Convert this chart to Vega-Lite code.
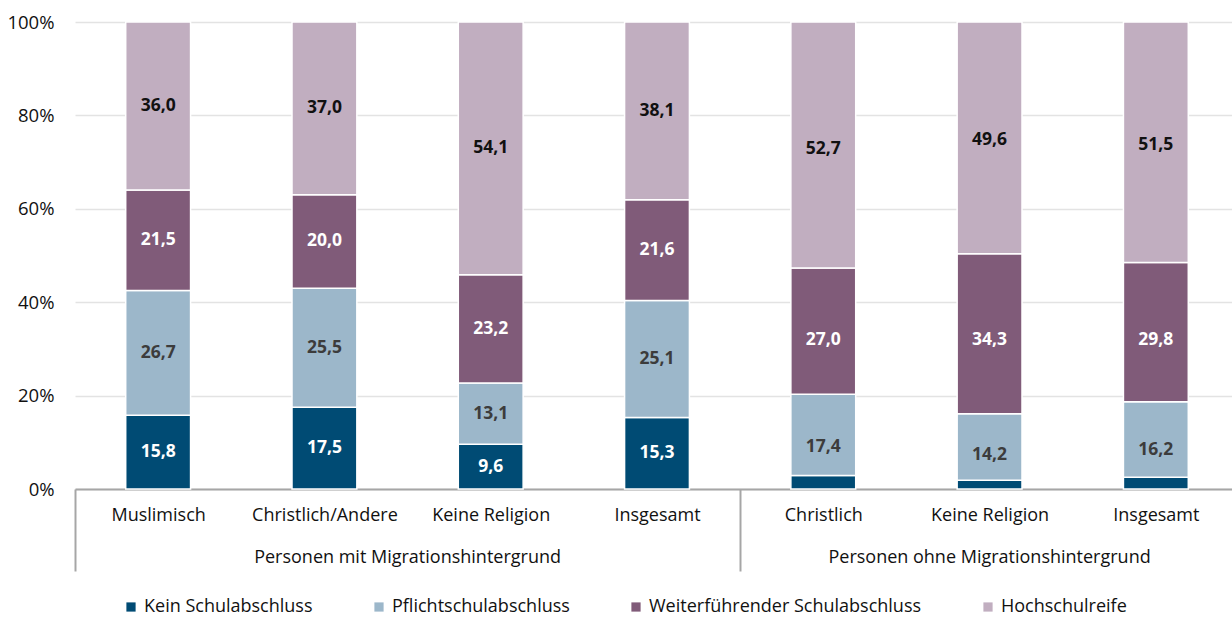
{
  "$schema": "https://vega.github.io/schema/vega-lite/v6.json",
  "width": 1157,
  "height": 467,
  "autosize": {"type": "none"},
  "padding": {"left": 75, "top": 22, "right": 0, "bottom": 130},
  "background": "white",
  "config": {
    "font": "Open Sans",
    "view": {"stroke": null},
    "locale": {"number": {"decimal": ",", "thousands": ".", "grouping": [3], "currency": ["", " €"]}}
  },
  "datasets": {
    "werte": [
      {"kat": "mit|Muslimisch", "stufe": "Kein Schulabschluss", "nr": 1, "wert": 15.8},
      {"kat": "mit|Muslimisch", "stufe": "Pflichtschulabschluss", "nr": 2, "wert": 26.7},
      {"kat": "mit|Muslimisch", "stufe": "Weiterführender Schulabschluss", "nr": 3, "wert": 21.5},
      {"kat": "mit|Muslimisch", "stufe": "Hochschulreife", "nr": 4, "wert": 36.0},
      {"kat": "mit|Christlich/Andere", "stufe": "Kein Schulabschluss", "nr": 1, "wert": 17.5},
      {"kat": "mit|Christlich/Andere", "stufe": "Pflichtschulabschluss", "nr": 2, "wert": 25.5},
      {"kat": "mit|Christlich/Andere", "stufe": "Weiterführender Schulabschluss", "nr": 3, "wert": 20.0},
      {"kat": "mit|Christlich/Andere", "stufe": "Hochschulreife", "nr": 4, "wert": 37.0},
      {"kat": "mit|Keine Religion", "stufe": "Kein Schulabschluss", "nr": 1, "wert": 9.6},
      {"kat": "mit|Keine Religion", "stufe": "Pflichtschulabschluss", "nr": 2, "wert": 13.1},
      {"kat": "mit|Keine Religion", "stufe": "Weiterführender Schulabschluss", "nr": 3, "wert": 23.2},
      {"kat": "mit|Keine Religion", "stufe": "Hochschulreife", "nr": 4, "wert": 54.1},
      {"kat": "mit|Insgesamt", "stufe": "Kein Schulabschluss", "nr": 1, "wert": 15.3},
      {"kat": "mit|Insgesamt", "stufe": "Pflichtschulabschluss", "nr": 2, "wert": 25.1},
      {"kat": "mit|Insgesamt", "stufe": "Weiterführender Schulabschluss", "nr": 3, "wert": 21.6},
      {"kat": "mit|Insgesamt", "stufe": "Hochschulreife", "nr": 4, "wert": 38.1},
      {"kat": "ohne|Christlich", "stufe": "Kein Schulabschluss", "nr": 1, "wert": 2.9},
      {"kat": "ohne|Christlich", "stufe": "Pflichtschulabschluss", "nr": 2, "wert": 17.4},
      {"kat": "ohne|Christlich", "stufe": "Weiterführender Schulabschluss", "nr": 3, "wert": 27.0},
      {"kat": "ohne|Christlich", "stufe": "Hochschulreife", "nr": 4, "wert": 52.7},
      {"kat": "ohne|Keine Religion", "stufe": "Kein Schulabschluss", "nr": 1, "wert": 1.9},
      {"kat": "ohne|Keine Religion", "stufe": "Pflichtschulabschluss", "nr": 2, "wert": 14.2},
      {"kat": "ohne|Keine Religion", "stufe": "Weiterführender Schulabschluss", "nr": 3, "wert": 34.3},
      {"kat": "ohne|Keine Religion", "stufe": "Hochschulreife", "nr": 4, "wert": 49.6},
      {"kat": "ohne|Insgesamt", "stufe": "Kein Schulabschluss", "nr": 1, "wert": 2.5},
      {"kat": "ohne|Insgesamt", "stufe": "Pflichtschulabschluss", "nr": 2, "wert": 16.2},
      {"kat": "ohne|Insgesamt", "stufe": "Weiterführender Schulabschluss", "nr": 3, "wert": 29.8},
      {"kat": "ohne|Insgesamt", "stufe": "Hochschulreife", "nr": 4, "wert": 51.5}
    ],
    "gruppen": [
      {"kat": "mit|Keine Religion", "gruppe": "Personen mit Migrationshintergrund"},
      {"kat": "ohne|Keine Religion", "gruppe": "Personen ohne Migrationshintergrund"}
    ]
  },
  "encoding": {
    "x": {
      "field": "kat",
      "type": "nominal",
      "sort": null,
      "scale": {
        "type": "band",
        "domain": ["mit|Muslimisch", "mit|Christlich/Andere", "mit|Keine Religion", "mit|Insgesamt", "ohne|Christlich", "ohne|Keine Religion", "ohne|Insgesamt"],
        "range": [0, 1164],
        "paddingInner": 0,
        "paddingOuter": 0
      },
      "axis": {
        "title": null,
        "labelAngle": 0,
        "labelExpr": "split(datum.value, '|')[1]",
        "labelFontSize": 18,
        "labelColor": "#111111",
        "labelPadding": -65,
        "tickBand": "extent",
        "tickSize": 82,
        "tickWidth": 2,
        "tickColor": "#a6a6a6",
        "tickOpacity": {"condition": {"test": "datum.extra || datum.value == 'mit|Insgesamt' || datum.value == 'ohne|Insgesamt'", "value": 1}, "value": 0},
        "domainColor": "#a6a6a6",
        "domainWidth": 2,
        "grid": false
      }
    }
  },
  "layer": [
    {
      "data": {"name": "werte"},
      "mark": {"type": "bar", "width": {"band": 0.39}, "stroke": "white", "strokeWidth": 1.5},
      "encoding": {
        "y": {
          "field": "wert",
          "type": "quantitative",
          "stack": "normalize",
          "scale": {"domain": [0, 1], "nice": false},
          "axis": {
            "title": null,
            "format": ".0%",
            "values": [0, 0.2, 0.4, 0.6, 0.8, 1],
            "domain": false,
            "ticks": false,
            "labelPadding": 21,
            "labelFontSize": 18.5,
            "labelColor": "#111111",
            "gridColor": "#e3e3e3",
            "gridWidth": 1.5
          }
        },
        "color": {
          "field": "stufe",
          "type": "nominal",
          "scale": {
            "domain": ["Kein Schulabschluss", "Pflichtschulabschluss", "Weiterführender Schulabschluss", "Hochschulreife"],
            "range": ["#004b74", "#9cb7ca", "#805b79", "#c1aec0"]
          },
          "legend": {
            "title": null,
            "orient": "none",
            "legendX": 47,
            "legendY": 576,
            "direction": "horizontal",
            "columns": 4,
            "symbolType": "square",
            "symbolSize": 85,
            "symbolStrokeWidth": 0,
            "labelFontSize": 18,
            "labelColor": "#111111",
            "labelOffset": 4,
            "labelLimit": 400,
            "columnPadding": 57
          }
        },
        "order": {"field": "nr", "type": "quantitative", "sort": "ascending"}
      }
    },
    {
      "data": {"name": "werte"},
      "transform": [{"filter": "datum.wert >= 5"}],
      "mark": {"type": "text", "fontSize": 17.5, "fontWeight": "bold", "baseline": "middle", "align": "center"},
      "encoding": {
        "y": {"field": "wert", "type": "quantitative", "stack": "normalize", "bandPosition": 0.5},
        "order": {"field": "nr", "type": "quantitative", "sort": "ascending"},
        "detail": {"field": "stufe"},
        "text": {"field": "wert", "type": "quantitative", "format": ".1f"},
        "color": {
          "condition": [
            {"test": "datum.nr == 1 || datum.nr == 3", "value": "#ffffff"},
            {"test": "datum.nr == 2", "value": "#3c3c3c"}
          ],
          "value": "#111111"
        }
      }
    },
    {
      "data": {"name": "gruppen"},
      "transform": [{"filter": "datum.kat == 'mit|Keine Religion'"}],
      "mark": {"type": "text", "fontSize": 18, "baseline": "middle", "align": "center", "dy": 69, "color": "#111111"},
      "encoding": {
        "x": {"field": "kat", "type": "nominal", "bandPosition": 0},
        "y": {"datum": 0, "type": "quantitative"},
        "text": {"field": "gruppe"}
      }
    },
    {
      "data": {"name": "gruppen"},
      "transform": [{"filter": "datum.kat == 'ohne|Keine Religion'"}],
      "mark": {"type": "text", "fontSize": 18, "baseline": "middle", "align": "center", "dy": 69, "color": "#111111"},
      "encoding": {
        "x": {"field": "kat", "type": "nominal", "bandPosition": 0.5},
        "y": {"datum": 0, "type": "quantitative"},
        "text": {"field": "gruppe"}
      }
    }
  ]
}
